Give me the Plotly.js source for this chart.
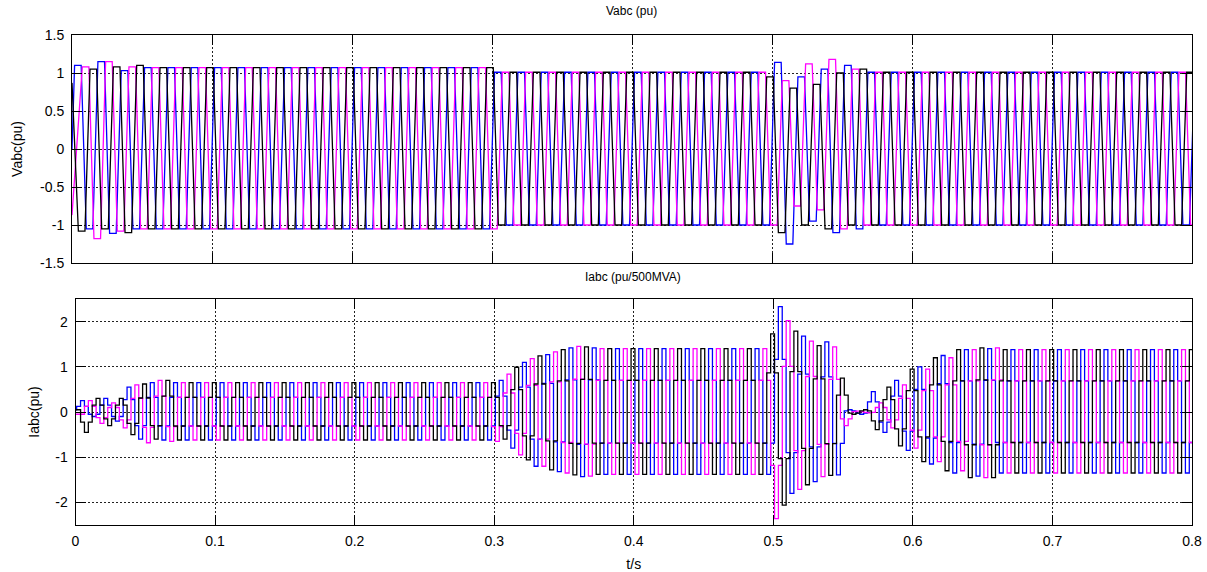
<!DOCTYPE html>
<html>
<head>
<meta charset="utf-8">
<script src="https://cdn.plot.ly/plotly-3.0.1.min.js"></script>
<style>html,body{margin:0;padding:0;background:#fff;}#chart{width:1207px;height:572px;}</style>
</head>
<body>
<div id="chart"></div>
<script>
// ---------- DATA ----------
// 60 Hz waveforms; each array holds the signed peak of successive half-cycles of one phase.
const halfPeriod = 1 / 120;          // s, spacing of successive half-cycle peaks
const xTickVals = [0, 0.1, 0.2, 0.3, 0.4, 0.5, 0.6, 0.7, 0.8];
const xTickText = ['0', '0.1', '0.2', '0.3', '0.4', '0.5', '0.6', '0.7', '0.8'];
const vTickVals = [-1.5, -1, -0.5, 0, 0.5, 1, 1.5];
const vTickText = ['-1.5', '-1', '-0.5', '0', '0.5', '1', '1.5'];
const iTickVals = [-2, -1, 0, 1, 2];
const iTickText = ['-2', '-1', '0', '1', '2'];

// Voltage: time of first half-cycle peak and value at t = 0, per phase [blue, magenta, black]
const vFirstPeakTime = [0.0042, 0.0097, 0.0069];
const vStartValue = [0, -0.87, 0.87];
const vFlatTopWidth = 0.0047;        // s, flat part of each voltage crest

const vBlue = [
  1.10, -1.05, 1.15, -1.11, 1.03, -1.05,
  1.07, -1.05, 1.07, -1.05, 1.07, -1.05, 1.07, -1.05, 1.07, -1.05,
  1.07, -1.05, 1.07, -1.05, 1.07, -1.05, 1.07, -1.05, 1.07, -1.05,
  1.07, -1.05, 1.07, -1.05, 1.07, -1.05, 1.07, -1.05, 1.07, -1.05,
  1.01, -1.00, 1.01, -1.00, 1.01, -1.00, 1.01, -1.00, 1.01, -1.00, 1.01, -1.00,
  1.01, -1.00, 1.01, -1.00, 1.01, -1.00, 1.01, -1.00, 1.01, -1.00, 1.01, -1.00,
  1.14, -1.25, 0.95, -0.95, 1.05, -1.10, 1.10, -1.05,
  1.01, -1.00, 1.01, -1.00, 1.01, -1.00, 1.01, -1.00, 1.01, -1.00, 1.01, -1.00, 1.01, -1.00,
  1.01, -1.00, 1.01, -1.00, 1.01, -1.00, 1.01, -1.00, 1.01, -1.00, 1.01, -1.00, 1.01, -1.00,
  1.01
];
const vMagenta = [
  1.08, -1.18, 1.15, -1.08, 1.08, -1.05,
  1.07, -1.05, 1.07, -1.05, 1.07, -1.05, 1.07, -1.05, 1.07, -1.05,
  1.07, -1.05, 1.07, -1.05, 1.07, -1.05, 1.07, -1.05, 1.07, -1.05,
  1.07, -1.05, 1.07, -1.05, 1.07, -1.05, 1.07, -1.05, 1.07, -1.05,
  1.01, -1.00, 1.01, -1.00, 1.01, -1.00, 1.01, -1.00, 1.01, -1.00, 1.01, -1.00,
  1.01, -1.00, 1.01, -1.00, 1.01, -1.00, 1.01, -1.00, 1.01, -1.00, 1.01, -1.00,
  0.90, -0.75, 1.12, -0.80, 1.18, -1.05, 1.05, -1.00,
  1.01, -1.00, 1.01, -1.00, 1.01, -1.00, 1.01, -1.00, 1.01, -1.00, 1.01, -1.00, 1.01, -1.00,
  1.01, -1.00, 1.01, -1.00, 1.01, -1.00, 1.01, -1.00, 1.01, -1.00, 1.01, -1.00, 1.01, -1.00
];
const vBlack = [
  -1.08, 1.05, -1.05, 1.08, -1.10, 1.10,
  -1.05, 1.07, -1.05, 1.07, -1.05, 1.07, -1.05, 1.07, -1.05, 1.07,
  -1.05, 1.07, -1.05, 1.07, -1.05, 1.07, -1.05, 1.07, -1.05, 1.07,
  -1.05, 1.07, -1.05, 1.07, -1.05, 1.07, -1.05, 1.07, -1.05, 1.07,
  -1.00, 1.01, -1.00, 1.01, -1.00, 1.01, -1.00, 1.01, -1.00, 1.01, -1.00, 1.01,
  -1.00, 1.01, -1.00, 1.01, -1.00, 1.01, -1.00, 1.01, -1.00, 1.01, -1.00, 0.95,
  -1.10, 0.80, -1.00, 0.85, -1.05, 1.00, -1.00, 1.05,
  -1.00, 1.01, -1.00, 1.01, -1.00, 1.01, -1.00, 1.01, -1.00, 1.01, -1.00, 1.01, -1.00, 1.01,
  -1.00, 1.01, -1.00, 1.01, -1.00, 1.01, -1.00, 1.01, -1.00, 1.01, -1.00, 1.01, -1.00, 1.01, -1.00
];

// Current: six-step shape (plateau at about half the peak), per phase [blue, magenta, black]
const iFirstPeakTime = [0.0050, 0.0106, 0.0078];
const iStartValue = [0.05, -0.05, 0.05];
const iPlateauRatio = 0.5;

const iBlue = [
  0.25, -0.10, 0.30, -0.20, 0.55, -0.60, 0.65, -0.62, 0.65,
  -0.62, 0.65, -0.62, 0.65, -0.62, 0.65, -0.62, 0.65, -0.62, 0.65, -0.62, 0.65, -0.62, 0.65,
  -0.62, 0.65, -0.62, 0.65, -0.62, 0.65, -0.62, 0.65, -0.62, 0.65, -0.62, 0.65, -0.62,
  0.70, -0.80, 1.10, -1.20, 1.27, -1.32, 1.42, -1.43, 1.42,
  -1.38, 1.40, -1.38, 1.40, -1.38, 1.40, -1.38, 1.40, -1.38, 1.40, -1.38, 1.40, -1.38, 1.40, -1.38,
  2.33, -1.80, 1.68, -1.54, 1.55, -1.39, 0.05, -0.05, 0.45, -0.45,
  0.70, -0.85, 1.00, -1.15, 1.25, -1.35, 1.38, -1.42, 1.40,
  -1.35, 1.38, -1.35, 1.38, -1.35, 1.38, -1.35, 1.38, -1.35, 1.38,
  -1.35, 1.38, -1.35, 1.38, -1.35, 1.38, -1.35, 1.38
];
const iMagenta = [
  0.25, -0.25, 0.20, -0.35, 0.60, -0.68, 0.70, -0.65, 0.65,
  -0.62, 0.65, -0.62, 0.65, -0.62, 0.65, -0.62, 0.65, -0.62, 0.65, -0.62, 0.65, -0.62, 0.65,
  -0.62, 0.65, -0.62, 0.65, -0.62, 0.65, -0.62, 0.65, -0.62, 0.65, -0.62, 0.65,
  -0.65, 0.84, -0.95, 1.18, -1.20, 1.33, -1.35, 1.45, -1.42,
  1.40, -1.38, 1.40, -1.38, 1.40, -1.38, 1.40, -1.38, 1.40, -1.38, 1.40, -1.38, 1.40, -1.38, 1.40,
  -2.36, 2.02, -1.71, 1.57, -1.43, 1.44, -0.30, 0.02, -0.02, 0.20, -0.35,
  0.60, -0.80, 0.95, -1.10, 1.20, -1.30, 1.38, -1.45, 1.42,
  -1.35, 1.38, -1.35, 1.38, -1.35, 1.38, -1.35, 1.38, -1.35, 1.38,
  -1.35, 1.38, -1.35, 1.38, -1.35, 1.38, -1.35
];
const iBlack = [
  -0.45, 0.30, -0.30, 0.30, -0.50, 0.62, -0.60, 0.70, -0.62,
  0.65, -0.62, 0.65, -0.62, 0.65, -0.62, 0.65, -0.62, 0.65, -0.62, 0.65, -0.62, 0.65, -0.62,
  0.65, -0.62, 0.65, -0.62, 0.65, -0.62, 0.65, -0.62, 0.65, -0.62, 0.65, -0.62,
  0.65, -0.60, 0.99, -1.06, 1.24, -1.28, 1.38, -1.39, 1.44,
  -1.38, 1.40, -1.38, 1.40, -1.38, 1.40, -1.38, 1.40, -1.38, 1.40, -1.38, 1.40, -1.38, 1.40, -1.38,
  1.73, -2.06, 1.79, -1.61, 1.47, -1.40, 0.75, -0.05, 0.05, -0.39,
  0.55, -0.75, 0.95, -1.10, 1.20, -1.30, 1.38, -1.45, 1.42, -1.45,
  1.38, -1.35, 1.38, -1.35, 1.38, -1.35, 1.38, -1.35, 1.38,
  -1.35, 1.38, -1.35, 1.38, -1.35, 1.38, -1.35, 1.38, -1.35
];

const phaseColors = ['#0000ff', '#ff00ff', '#000000'];
const phaseNames = ['a', 'b', 'c'];

// ---------- BUILD TRACES ----------
const period = 2 * halfPeriod;
function flatTopSeries(first, vals, start, flat) {
  const x = [0], y = [start];
  vals.forEach((v, k) => {
    const tc = first + k * halfPeriod;
    x.push(tc - flat / 2, tc + flat / 2);
    y.push(v, v);
  });
  return {x, y};
}
function stepSeries(first, vals, start, ratio) {
  const x = [0], y = [start];
  vals.forEach((p, k) => {
    const tc = first + k * halfPeriod;
    x.push(tc - period / 4, tc - period / 12, tc + period / 12);
    y.push(p * ratio, p, p * ratio);
  });
  return {x, y};
}

const vSets = [vBlue, vMagenta, vBlack];
const iSets = [iBlue, iMagenta, iBlack];
const traces = [];
vSets.forEach((vals, p) => {
  const s = flatTopSeries(vFirstPeakTime[p], vals, vStartValue[p], vFlatTopWidth);
  traces.push({x: s.x, y: s.y, type: 'scatter', mode: 'lines', name: 'V' + phaseNames[p],
    xaxis: 'x', yaxis: 'y', line: {color: phaseColors[p], width: 1.3}, showlegend: false});
});
iSets.forEach((vals, p) => {
  const s = stepSeries(iFirstPeakTime[p], vals, iStartValue[p], iPlateauRatio);
  traces.push({x: s.x, y: s.y, type: 'scatter', mode: 'lines', name: 'I' + phaseNames[p],
    xaxis: 'x2', yaxis: 'y2', line: {color: phaseColors[p], width: 1.3, shape: 'hv'}, showlegend: false});
});

const font = 'Liberation Sans, Arial, Helvetica, sans-serif';
const axisBase = {
  showline: true, linecolor: '#000', linewidth: 1, mirror: 'ticks',
  ticks: 'inside', ticklen: 10, tickcolor: '#000', tickwidth: 1,
  showgrid: true, gridcolor: '#222', griddash: '2px,2px', gridwidth: 1,
  zeroline: false, tickfont: {family: font, size: 14, color: '#000'}, fixedrange: true
};

const layout = {
  width: 1207, height: 572,
  margin: {l: 0, r: 0, t: 0, b: 0},
  paper_bgcolor: '#fff', plot_bgcolor: '#fff',
  showlegend: false,
  xaxis: Object.assign({}, axisBase, {domain: [72 / 1207, 1192 / 1207], range: [0, 0.8], anchor: 'y',
    tickmode: 'array', tickvals: xTickVals, ticktext: xTickText, showticklabels: false}),
  yaxis: Object.assign({}, axisBase, {domain: [1 - 263 / 572, 1 - 35 / 572], range: [-1.5, 1.5], anchor: 'x',
    tickmode: 'array', tickvals: vTickVals, ticktext: vTickText, ticklabelstandoff: 4,
    title: {text: 'Vabc(pu)', font: {family: font, size: 14, color: '#000'}, standoff: 14}}),
  xaxis2: Object.assign({}, axisBase, {domain: [75.5 / 1207, 1192 / 1207], range: [0, 0.8], anchor: 'y2',
    tickmode: 'array', tickvals: xTickVals, ticktext: xTickText, ticklabelstandoff: 3,
    title: {text: 't/s', font: {family: font, size: 14, color: '#000'}, standoff: 11}}),
  yaxis2: Object.assign({}, axisBase, {domain: [1 - 525 / 572, 1 - 299 / 572], range: [-2.5, 2.5], anchor: 'x2',
    tickmode: 'array', tickvals: iTickVals, ticktext: iTickText, ticklabelstandoff: 4,
    title: {text: 'Iabc(pu)', font: {family: font, size: 14, color: '#000'}, standoff: 12}}),
  annotations: [
    {text: 'Vabc (pu)', xref: 'paper', yref: 'paper', x: 632 / 1207, y: 1 - 11 / 572,
      xanchor: 'center', yanchor: 'middle', showarrow: false, font: {family: font, size: 12, color: '#000'}},
    {text: 'Iabc (pu/500MVA)', xref: 'paper', yref: 'paper', x: 633 / 1207, y: 1 - 277 / 572,
      xanchor: 'center', yanchor: 'middle', showarrow: false, font: {family: font, size: 12, color: '#000'}}
  ]
};

Plotly.newPlot('chart', traces, layout, {displayModeBar: false, staticPlot: true});
</script>
</body>
</html>
